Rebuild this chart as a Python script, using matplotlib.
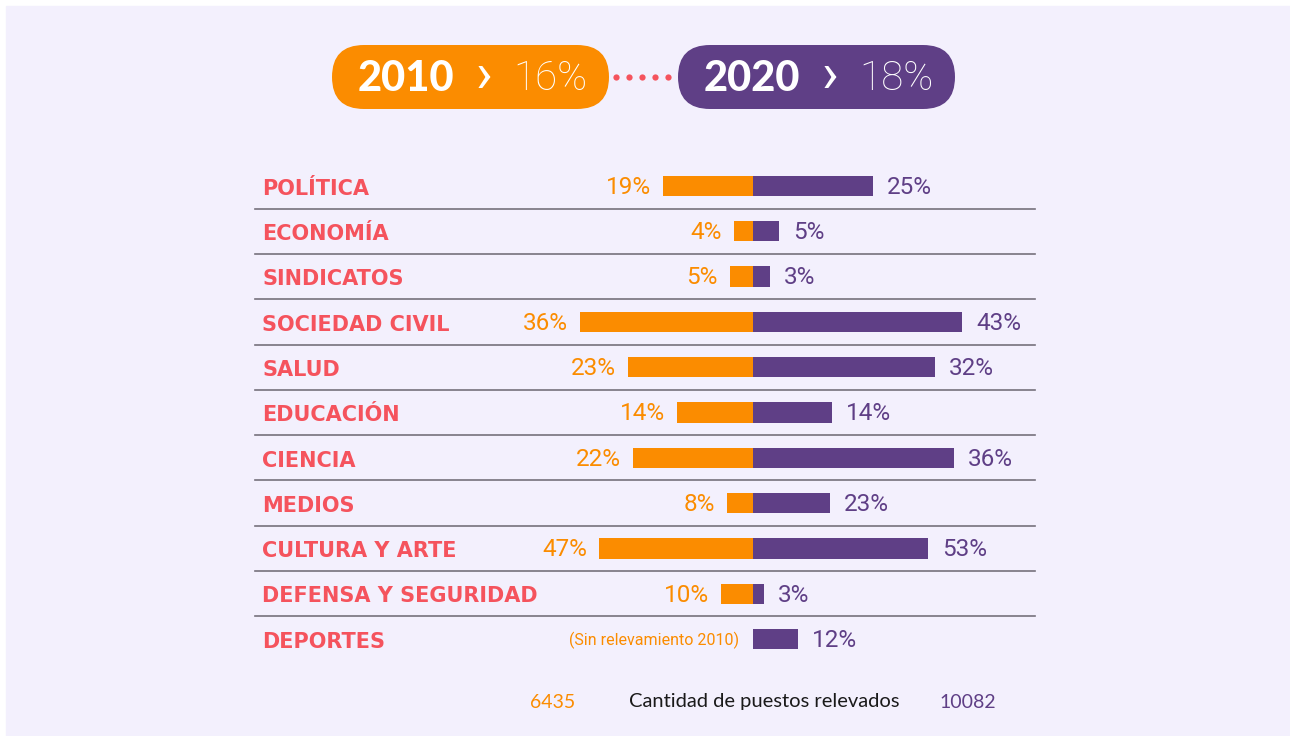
import matplotlib
matplotlib.use("Agg")
import matplotlib.pyplot as plt
from matplotlib.patches import FancyBboxPatch, Rectangle

# datos
categorias = ["POLÍTICA", "ECONOMÍA", "SINDICATOS", "SOCIEDAD CIVIL", "SALUD",
              "EDUCACIÓN", "CIENCIA", "MEDIOS", "CULTURA Y ARTE",
              "DEFENSA Y SEGURIDAD", "DEPORTES"]
pct_2010 = [19, 4, 5, 36, 23, 14, 22, 8, 47, 10, None]
pct_2020 = [25, 5, 3, 43, 32, 14, 36, 23, 53, 3, 12]
# largo de las barras tal como aparecen en el grafico (no proporcional al %)
largo_2010 = [45, 9.5, 11.5, 86.5, 62.5, 38, 60, 13, 77, 16, 0]
largo_2020 = [60, 13, 8.5, 104.5, 91, 39.5, 100.5, 38.5, 87.5, 5.5, 22.5]
total_2010 = [2010, 16]
total_2020 = [2020, 18]
puestos_2010 = 6435
puestos_2020 = 10082

NARANJA = "#fb8c00"
VIOLETA = "#5f3f86"
CORAL = "#f5535d"
FONDO = "#f3f0fd"
LINEA = "#75717c"
LIGERA = "Roboto"

W, H = 1290, 736
fig = plt.figure(figsize=(W / 100, H / 100), dpi=100)
fig.patch.set_facecolor("white")

# capa de fondo en pixeles
bg = fig.add_axes([0, 0, 1, 1])
bg.set_xlim(0, W)
bg.set_ylim(H, 0)
bg.axis("off")
bg.add_patch(Rectangle((6, 6), W - 6, H - 6, color=FONDO, zorder=0))

# pastillas de encabezado
for x0, color, (anio, pct) in [(332, NARANJA, total_2010), (678, VIOLETA, total_2020)]:
    bg.add_patch(FancyBboxPatch((x0, 45), 277, 64,
                                boxstyle="round,pad=0,rounding_size=32",
                                fc=color, ec="none", zorder=2))
    bg.text(x0 + 122, 79, str(anio), color="white", fontsize=30,
            fontfamily="Lato", fontweight="black", ha="right", va="center", zorder=3)
    bg.text(x0 + 152, 76, "›", color="white", fontsize=40,
            fontfamily=LIGERA, fontweight="normal", ha="center", va="center", zorder=3)
    bg.text(x0 + 181, 79, f"{pct}%", color="white", fontsize=29,
            fontfamily=LIGERA, fontweight="light", ha="left", va="center", zorder=3)
for i in range(5):
    bg.plot(616 + 13 * i, 77, "o", ms=4.5, color=CORAL, mec="none", zorder=3)

# pie
bg.text(553, 702, str(puestos_2010), color=NARANJA, fontsize=14,
        fontfamily="Lato", ha="center", va="center")
bg.text(764, 702, "Cantidad de puestos relevados", color="#1a1a1a", fontsize=14.5,
        fontfamily="Lato", ha="center", va="center")
bg.text(968, 702, str(puestos_2020), color=VIOLETA, fontsize=14,
        fontfamily="Lato", ha="center", va="center")

# barras: eje sobre toda la figura, 2 px por unidad en x, filas de 45.3 px
ax = fig.add_axes([0, 0, 1, 1])
ax.patch.set_alpha(0)
ax.axis("off")
ax.set_xlim(-376.5, 268.5)
ax.set_ylim((H - 186) / 45.3, -186 / 45.3)

filas = list(range(len(categorias)))
ax.barh(filas, [-v for v in largo_2010], height=0.45, color=NARANJA, zorder=3)
ax.barh(filas, largo_2020, height=0.45, color=VIOLETA, zorder=3)

for i, cat in enumerate(categorias):
    ax.text(-245.5, i + 0.06, cat, color=CORAL, fontsize=15,
            fontfamily="DejaVu Sans", fontweight="bold", ha="left", va="center")
    if pct_2010[i] is not None:
        ax.text(-largo_2010[i] - 6, i + 0.03, f"{pct_2010[i]}%", color=NARANJA,
                fontsize=17.5, fontfamily=LIGERA, fontweight="normal",
                ha="right", va="center")
    else:
        ax.text(-7, i + 0.03, "(Sin relevamiento 2010)", color=NARANJA,
                fontsize=11.5, fontfamily=LIGERA, fontweight="normal",
                ha="right", va="center")
    ax.text(largo_2020[i] + 7, i + 0.03, f"{pct_2020[i]}%", color=VIOLETA,
            fontsize=17.5, fontfamily=LIGERA, fontweight="normal",
            ha="left", va="center")
    if i < len(categorias) - 1:
        ax.plot([-249, 141], [i + 0.5, i + 0.5], color=LINEA, lw=1.2, zorder=1)

fig.savefig("out.png", dpi=100, facecolor=fig.get_facecolor())
